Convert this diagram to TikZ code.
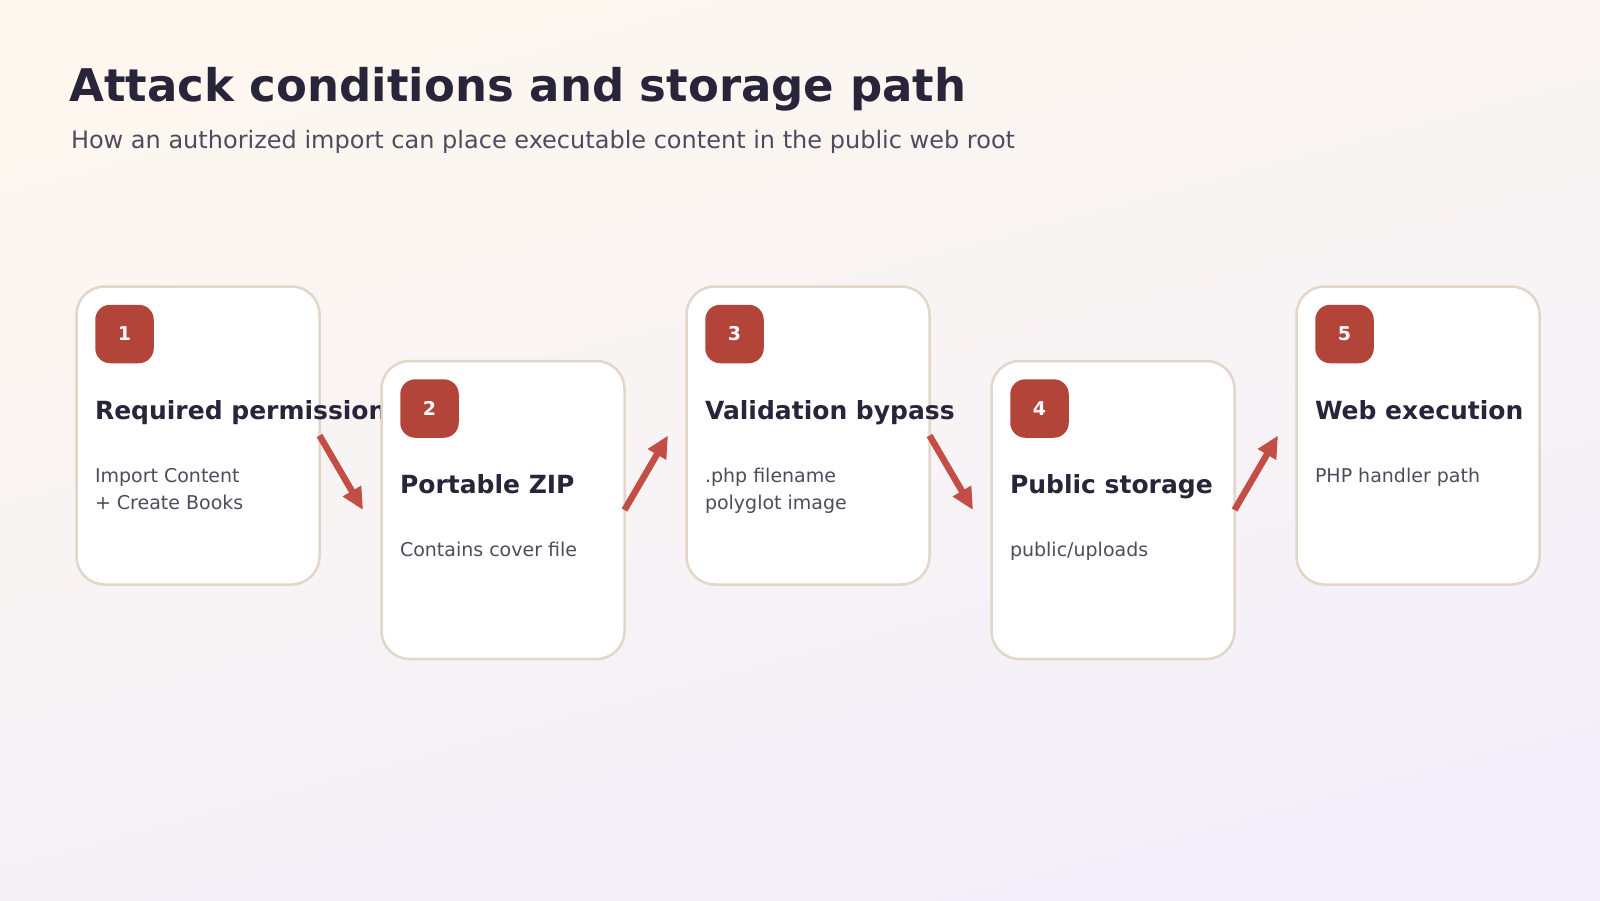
\documentclass[tikz,border=0pt]{standalone}
\usepackage{fontspec}
\setmainfont{DejaVu Sans}
\usetikzlibrary{calc,arrows.meta}
\definecolor{ink}{HTML}{28243A}
\definecolor{muted}{HTML}{4F4B5E}
\definecolor{brick}{HTML}{B3443A}
\definecolor{arrowred}{HTML}{C24E45}
\definecolor{edge}{HTML}{E2D6CB}
\definecolor{warm}{HTML}{FDF7F0}
\definecolor{lilac}{HTML}{F3EFFA}
\def\cards{1/198/435.5/Required permission/{Import Content\\+ Create Books},
  2/503/510/Portable ZIP/{Contains cover file},
  3/808/435.5/Validation bypass/{.php filename\\polyglot image},
  4/1113/510/Public storage/{public/uploads},
  5/1418/435.5/Web execution/{PHP handler path}}
\def\lines#1{\begin{tabular}[t]{@{}l@{}}#1\end{tabular}}
\tikzstyle{every node}=[inner sep=0pt, outer sep=0pt]
\tikzstyle{card}=[draw=edge, line width=2.5pt, fill=white, rounded corners=28pt, minimum width=243pt, minimum height=298pt]
\tikzstyle{badge}=[fill=brick, rounded corners=15pt, minimum size=58.5pt, text=white, font=\bfseries\fontsize{19}{19}\selectfont]
\tikzstyle{head}=[anchor=base west, text=ink, font=\bfseries\fontsize{25}{30}\selectfont]
\tikzstyle{body}=[anchor=base west, text=muted, font=\fontsize{19}{27}\selectfont]
\tikzstyle{flow}=[draw=arrowred, line width=6.5pt, -{Triangle[length=22pt,width=20pt]}]

\begin{document}
\begin{tikzpicture}[x=1pt,y=-1pt]

\shade[top color=warm, bottom color=lilac, shading angle=15] (0,0) rectangle (1600,900);
\useasboundingbox (0,0) rectangle (1600,900);

\node[anchor=base west, text=ink, font=\bfseries\fontsize{45}{54}\selectfont] (title) at (69.5,101) {Attack conditions and storage path};
\node[anchor=base west, text=muted, font=\fontsize{24}{29}\selectfont] (subtitle) at (71,148) {How an authorized import can place executable content in the public web root};

\begin{scope}
  \foreach \i/\x/\y/\head/\body in \cards {
    \node[card] (c\i) at (\x,\y) {};
    \node[badge] (b\i) at ($(c\i.north west)+(48,47.5)$) {\i};
    \node[head] (h\i) at ($(c\i.north west)+(18.5,132.5)$) {\head};
    \node[body] (t\i) at ($(c\i.north west)+(18.5,195.5)$) {\lines{\body}};
  }

  \foreach \a/\b in {1/2,2/3,3/4,4/5}
    \draw[flow] (c\a.east) -- ($(c\b.west)+(-18.5,0)$);
\end{scope}

\end{tikzpicture}
\end{document}
